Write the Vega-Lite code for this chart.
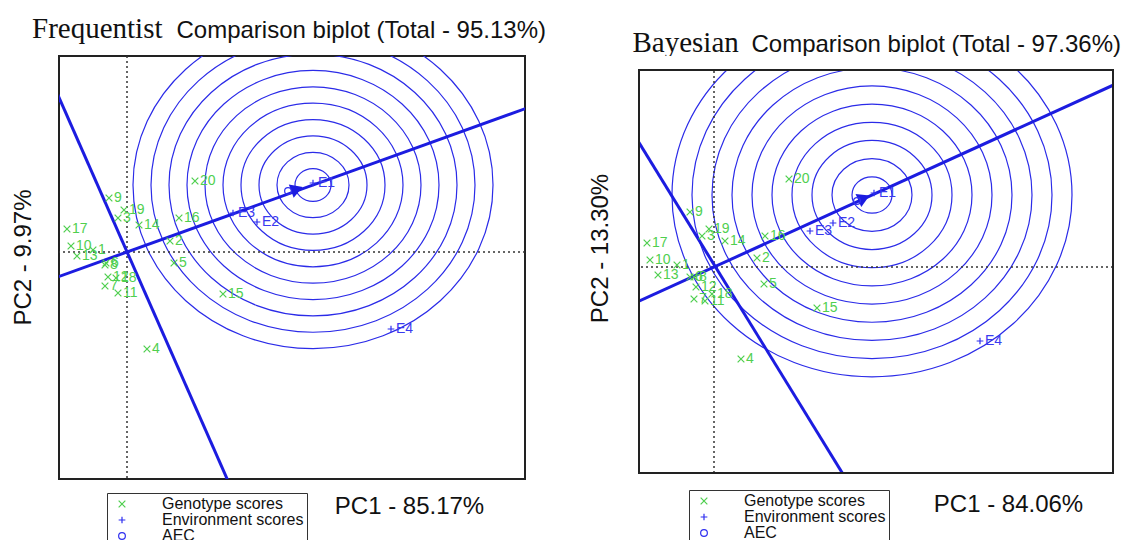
{
  "$schema": "https://vega.github.io/schema/vega-lite/v6.json",
  "padding": {"left": 10, "top": 13, "right": 0, "bottom": 0},
  "spacing": 41,
  "config": {
    "view": {"stroke": "#222", "strokeWidth": 2},
    "axis": {"domain": false, "ticks": false, "labels": false, "grid": false, "titleFont": "Liberation Sans", "titleFontSize": 24, "titleFontWeight": "normal", "titleColor": "#111"},
    "legend": {"labelFont": "Liberation Sans", "labelFontSize": 16, "labelColor": "#111", "strokeColor": "#333", "fillColor": "white", "padding": 3, "symbolOffset": 4, "labelOffset": 32, "symbolSize": 45, "symbolStrokeWidth": 1.2, "rowPadding": -1, "labelLimit": 300}
  },
  "datasets": {
    "ptsL": [
      {"type": "Genotype scores", "label": "1", "x": -0.34, "y": 0.02},
      {"type": "Genotype scores", "label": "2", "x": 0.43, "y": 0.11},
      {"type": "Genotype scores", "label": "3", "x": -0.09, "y": 0.34},
      {"type": "Genotype scores", "label": "4", "x": 0.20, "y": -0.97},
      {"type": "Genotype scores", "label": "5", "x": 0.47, "y": -0.11},
      {"type": "Genotype scores", "label": "6", "x": -0.21, "y": -0.11},
      {"type": "Genotype scores", "label": "7", "x": -0.22, "y": -0.34},
      {"type": "Genotype scores", "label": "8", "x": -0.22, "y": -0.13},
      {"type": "Genotype scores", "label": "9", "x": -0.18, "y": 0.54},
      {"type": "Genotype scores", "label": "10", "x": -0.56, "y": 0.06},
      {"type": "Genotype scores", "label": "11", "x": -0.09, "y": -0.41},
      {"type": "Genotype scores", "label": "12", "x": -0.19, "y": -0.25},
      {"type": "Genotype scores", "label": "13", "x": -0.50, "y": -0.04},
      {"type": "Genotype scores", "label": "14", "x": 0.12, "y": 0.27},
      {"type": "Genotype scores", "label": "15", "x": 0.96, "y": -0.42},
      {"type": "Genotype scores", "label": "16", "x": 0.52, "y": 0.34},
      {"type": "Genotype scores", "label": "17", "x": -0.60, "y": 0.23},
      {"type": "Genotype scores", "label": "18", "x": -0.11, "y": -0.26},
      {"type": "Genotype scores", "label": "19", "x": -0.03, "y": 0.42},
      {"type": "Genotype scores", "label": "20", "x": 0.68, "y": 0.71},
      {"type": "Environment scores", "label": "E1", "x": 1.86, "y": 0.69},
      {"type": "Environment scores", "label": "E2", "x": 1.30, "y": 0.30},
      {"type": "Environment scores", "label": "E3", "x": 1.06, "y": 0.39},
      {"type": "Environment scores", "label": "E4", "x": 2.64, "y": -0.77},
      {"type": "AEC", "label": "", "x": 1.61, "y": 0.61}
    ],
    "ptsR": [
      {"type": "Genotype scores", "label": "1", "x": -0.37, "y": 0.02},
      {"type": "Genotype scores", "label": "2", "x": 0.43, "y": 0.09},
      {"type": "Genotype scores", "label": "3", "x": -0.12, "y": 0.31},
      {"type": "Genotype scores", "label": "4", "x": 0.27, "y": -0.92},
      {"type": "Genotype scores", "label": "5", "x": 0.50, "y": -0.17},
      {"type": "Genotype scores", "label": "6", "x": -0.24, "y": -0.10},
      {"type": "Genotype scores", "label": "7", "x": -0.20, "y": -0.32},
      {"type": "Genotype scores", "label": "8", "x": -0.20, "y": -0.10},
      {"type": "Genotype scores", "label": "9", "x": -0.24, "y": 0.55},
      {"type": "Genotype scores", "label": "10", "x": -0.64, "y": 0.07},
      {"type": "Genotype scores", "label": "11", "x": -0.09, "y": -0.34},
      {"type": "Genotype scores", "label": "12", "x": -0.18, "y": -0.20},
      {"type": "Genotype scores", "label": "13", "x": -0.56, "y": -0.08},
      {"type": "Genotype scores", "label": "14", "x": 0.11, "y": 0.26},
      {"type": "Genotype scores", "label": "15", "x": 1.03, "y": -0.41},
      {"type": "Genotype scores", "label": "16", "x": 0.51, "y": 0.31},
      {"type": "Genotype scores", "label": "17", "x": -0.67, "y": 0.24},
      {"type": "Genotype scores", "label": "18", "x": -0.02, "y": -0.27},
      {"type": "Genotype scores", "label": "19", "x": -0.05, "y": 0.38},
      {"type": "Genotype scores", "label": "20", "x": 0.75, "y": 0.88},
      {"type": "Environment scores", "label": "E1", "x": 1.60, "y": 0.74},
      {"type": "Environment scores", "label": "E2", "x": 1.19, "y": 0.44},
      {"type": "Environment scores", "label": "E3", "x": 0.96, "y": 0.36},
      {"type": "Environment scores", "label": "E4", "x": 2.66, "y": -0.74},
      {"type": "AEC", "label": "", "x": 1.43, "y": 0.66}
    ],
    "ringsL": [
      {"cx": 1.86, "cy": 0.67, "r": 0.18}, {"cx": 1.86, "cy": 0.67, "r": 0.36},
      {"cx": 1.86, "cy": 0.67, "r": 0.54}, {"cx": 1.86, "cy": 0.67, "r": 0.72},
      {"cx": 1.86, "cy": 0.67, "r": 0.90}, {"cx": 1.86, "cy": 0.67, "r": 1.08},
      {"cx": 1.86, "cy": 0.67, "r": 1.26}, {"cx": 1.86, "cy": 0.67, "r": 1.44},
      {"cx": 1.86, "cy": 0.67, "r": 1.62}, {"cx": 1.86, "cy": 0.67, "r": 1.80}
    ],
    "ringsR": [
      {"cx": 1.58, "cy": 0.72, "r": 0.20}, {"cx": 1.58, "cy": 0.72, "r": 0.40},
      {"cx": 1.58, "cy": 0.72, "r": 0.60}, {"cx": 1.58, "cy": 0.72, "r": 0.80},
      {"cx": 1.58, "cy": 0.72, "r": 1.00}, {"cx": 1.58, "cy": 0.72, "r": 1.20},
      {"cx": 1.58, "cy": 0.72, "r": 1.40}, {"cx": 1.58, "cy": 0.72, "r": 1.60},
      {"cx": 1.58, "cy": 0.72, "r": 1.80}, {"cx": 1.58, "cy": 0.72, "r": 2.00}
    ],
    "linesL": [
      {"ln": "a", "x": -1.0, "y": -0.36}, {"ln": "a", "x": 4.5, "y": 1.62},
      {"ln": "b", "x": -1.0, "y": 2.27}, {"ln": "b", "x": 1.2, "y": -2.72}
    ],
    "linesR": [
      {"ln": "a", "x": -1.0, "y": -0.456}, {"ln": "a", "x": 4.5, "y": 2.05},
      {"ln": "b", "x": -1.0, "y": 1.65}, {"ln": "b", "x": 1.4, "y": -2.25}
    ],
    "stripR": [{"x0": -0.8, "x1": 4.05, "y0": 1.97, "y1": 2.2}],
    "frameR": [{"x0": -0.75, "x1": 3.99, "y0": -2.06, "y1": 1.97}],
    "arrowL": [{"x": 1.70, "y": 0.63}],
    "arrowR": [{"x": 1.50, "y": 0.69}],
    "one": [{"v": 0}]
  },
  "resolve": {"scale": {"color": "independent", "shape": "independent", "size": "independent"}, "legend": {"color": "independent", "shape": "independent"}},
  "hconcat": [
    {
      "width": 466, "height": 423,
      "resolve": {"axis": {"x": "independent"}},
      "layer": [
        {
          "layer": [
            {
              "data": {"name": "ringsL"},
              "mark": {"type": "point", "shape": "M1,0C1,0.502,0.552,0.909,0,0.909C-0.552,0.909,-1,0.502,-1,0C-1,-0.502,-0.552,-0.909,0,-0.909C0.552,-0.909,1,-0.502,1,0Z", "filled": false, "color": "#2b2be8", "strokeWidth": 1.2, "opacity": 1, "clip": true},
              "encoding": {
                "x": {"field": "cx", "type": "quantitative", "scale": {"domain": [-0.68, 3.98], "nice": false, "zero": false}, "axis": {"title": "PC1 - 85.17%", "titleX": 350, "titleY": 34, "titleAlign": "center", "titleBaseline": "alphabetic"}},
                "y": {"field": "cy", "type": "quantitative", "scale": {"domain": [-2.27, 1.96], "nice": false, "zero": false}, "axis": {"title": "PC2 - 9.97%", "titleX": -36, "titleY": 201, "titleAngle": -90, "titleAlign": "center", "titleBaseline": "middle"}},
                "size": {"field": "r", "type": "quantitative", "scale": {"type": "pow", "exponent": 2, "domain": [0, 2], "range": [0, 160000]}, "legend": null}
              }
            },
            {
              "data": {"name": "one"},
              "mark": {"type": "rule", "strokeDash": [2, 3], "color": "#333", "strokeWidth": 1.5},
              "encoding": {"x": {"field": "v", "type": "quantitative", "scale": {"domain": [-0.68, 3.98], "nice": false, "zero": false}}}
            },
            {
              "data": {"name": "one"},
              "mark": {"type": "rule", "strokeDash": [2, 3], "color": "#333", "strokeWidth": 1.5},
              "encoding": {"y": {"field": "v", "type": "quantitative", "scale": {"domain": [-2.27, 1.96], "nice": false, "zero": false}}}
            },
            {
              "data": {"name": "linesL"},
              "mark": {"type": "line", "color": "#1c1ce0", "strokeWidth": 3, "clip": true},
              "encoding": {
                "x": {"field": "x", "type": "quantitative", "scale": {"domain": [-0.68, 3.98], "nice": false, "zero": false}},
                "y": {"field": "y", "type": "quantitative", "scale": {"domain": [-2.27, 1.96], "nice": false, "zero": false}},
                "detail": {"field": "ln"}
              }
            },
            {
              "data": {"name": "arrowL"},
              "mark": {"type": "point", "shape": "triangle-right", "filled": true, "color": "#1c1ce0", "size": 200, "angle": 340, "opacity": 1},
              "encoding": {
                "x": {"field": "x", "type": "quantitative", "scale": {"domain": [-0.68, 3.98], "nice": false, "zero": false}},
                "y": {"field": "y", "type": "quantitative", "scale": {"domain": [-2.27, 1.96], "nice": false, "zero": false}}
              }
            },
            {
              "data": {"name": "ptsL"},
              "mark": {"type": "point", "filled": false, "strokeWidth": 1.2, "size": 45, "opacity": 1},
              "encoding": {
                "x": {"field": "x", "type": "quantitative", "scale": {"domain": [-0.68, 3.98], "nice": false, "zero": false}},
                "y": {"field": "y", "type": "quantitative", "scale": {"domain": [-2.27, 1.96], "nice": false, "zero": false}},
                "shape": {"field": "type", "type": "nominal", "scale": {"domain": ["Genotype scores", "Environment scores", "AEC"], "range": ["M-1,-1L1,1M-1,1L1,-1", "M-1,0L1,0M0,-1L0,1", "circle"]}, "legend": {"title": null, "orient": "none", "legendX": 48, "legendY": 437}},
                "color": {"field": "type", "type": "nominal", "scale": {"domain": ["Genotype scores", "Environment scores", "AEC"], "range": ["#4fcf4f", "#2f2ff0", "#2f2ff0"]}, "legend": {"title": null, "orient": "none", "legendX": 48, "legendY": 437}}
              }
            },
            {
              "data": {"name": "ptsL"},
              "transform": [{"filter": "datum.type == 'Genotype scores'"}],
              "mark": {"type": "text", "align": "left", "baseline": "middle", "dx": 5, "font": "Liberation Sans", "fontSize": 14, "color": "#4fcf4f"},
              "encoding": {
                "x": {"field": "x", "type": "quantitative", "scale": {"domain": [-0.68, 3.98], "nice": false, "zero": false}},
                "y": {"field": "y", "type": "quantitative", "scale": {"domain": [-2.27, 1.96], "nice": false, "zero": false}},
                "text": {"field": "label"}
              }
            },
            {
              "data": {"name": "ptsL"},
              "transform": [{"filter": "datum.type == 'Environment scores'"}],
              "mark": {"type": "text", "align": "left", "baseline": "middle", "dx": 5, "font": "Liberation Sans", "fontSize": 14, "color": "#3a3af0"},
              "encoding": {
                "x": {"field": "x", "type": "quantitative", "scale": {"domain": [-0.68, 3.98], "nice": false, "zero": false}},
                "y": {"field": "y", "type": "quantitative", "scale": {"domain": [-2.27, 1.96], "nice": false, "zero": false}},
                "text": {"field": "label"}
              }
            }
          ]
        },
        {
          "data": {"name": "one"},
          "mark": {"type": "rule", "opacity": 0},
          "encoding": {"x": {"field": "v", "type": "quantitative", "scale": {"domain": [-0.68, 3.98], "nice": false, "zero": false}, "axis": {"orient": "top", "values": [0.49], "labels": true, "labelExpr": "'Comparison biplot (Total - 95.13%)'", "labelFont": "Liberation Sans", "labelFontSize": 24, "labelColor": "#111", "labelAlign": "left", "labelBaseline": "alphabetic", "labelPadding": 19, "labelFlush": false, "labelOverlap": false, "labelBound": false, "labelLimit": 1000, "title": "Frequentist", "titleFont": "Liberation Serif", "titleFontSize": 29, "titleX": -27.5, "titleY": -19, "titleAlign": "left", "titleBaseline": "alphabetic"}}}
        }
      ]
    },
    {
      "width": 474, "height": 417,
      "view": {"stroke": null},
      "resolve": {"axis": {"x": "independent"}},
      "layer": [
        {
          "layer": [
            {
              "data": {"name": "ringsR"},
              "mark": {"type": "point", "shape": "M1,0C1,0.502,0.552,0.909,0,0.909C-0.552,0.909,-1,0.502,-1,0C-1,-0.502,-0.552,-0.909,0,-0.909C0.552,-0.909,1,-0.502,1,0Z", "filled": false, "color": "#2b2be8", "strokeWidth": 1.2, "opacity": 1, "clip": true},
              "encoding": {
                "x": {"field": "cx", "type": "quantitative", "scale": {"domain": [-0.75, 3.99], "nice": false, "zero": false}, "axis": {"title": "PC1 - 84.06%", "titleX": 369, "titleY": 38, "titleAlign": "center", "titleBaseline": "alphabetic"}},
                "y": {"field": "cy", "type": "quantitative", "scale": {"domain": [-2.06, 2.11], "nice": false, "zero": false}, "axis": {"title": "PC2 - 13.30%", "titleX": -39, "titleY": 192, "titleAngle": -90, "titleAlign": "center", "titleBaseline": "middle"}},
                "size": {"field": "r", "type": "quantitative", "scale": {"type": "pow", "exponent": 2, "domain": [0, 2], "range": [0, 160000]}, "legend": null}
              }
            },
            {
              "data": {"name": "one"},
              "mark": {"type": "rule", "strokeDash": [2, 3], "color": "#333", "strokeWidth": 1.5},
              "encoding": {"x": {"field": "v", "type": "quantitative", "scale": {"domain": [-0.75, 3.99], "nice": false, "zero": false}}}
            },
            {
              "data": {"name": "one"},
              "mark": {"type": "rule", "strokeDash": [2, 3], "color": "#333", "strokeWidth": 1.5},
              "encoding": {"y": {"field": "v", "type": "quantitative", "scale": {"domain": [-2.06, 2.11], "nice": false, "zero": false}}}
            },
            {
              "data": {"name": "linesR"},
              "mark": {"type": "line", "color": "#1c1ce0", "strokeWidth": 3, "clip": true},
              "encoding": {
                "x": {"field": "x", "type": "quantitative", "scale": {"domain": [-0.75, 3.99], "nice": false, "zero": false}},
                "y": {"field": "y", "type": "quantitative", "scale": {"domain": [-2.06, 2.11], "nice": false, "zero": false}},
                "detail": {"field": "ln"}
              }
            },
            {
              "data": {"name": "stripR"},
              "mark": {"type": "rect", "color": "white", "filled": true, "opacity": 1, "clip": true},
              "encoding": {
                "x": {"field": "x0", "type": "quantitative", "scale": {"domain": [-0.75, 3.99], "nice": false, "zero": false}},
                "x2": {"field": "x1"},
                "y": {"field": "y0", "type": "quantitative", "scale": {"domain": [-2.06, 2.11], "nice": false, "zero": false}},
                "y2": {"field": "y1"}
              }
            },
            {
              "data": {"name": "frameR"},
              "mark": {"type": "rect", "filled": false, "color": "#222", "strokeWidth": 2, "opacity": 1},
              "encoding": {
                "x": {"field": "x0", "type": "quantitative", "scale": {"domain": [-0.75, 3.99], "nice": false, "zero": false}},
                "x2": {"field": "x1"},
                "y": {"field": "y0", "type": "quantitative", "scale": {"domain": [-2.06, 2.11], "nice": false, "zero": false}},
                "y2": {"field": "y1"}
              }
            },
            {
              "data": {"name": "arrowR"},
              "mark": {"type": "point", "shape": "triangle-right", "filled": true, "color": "#1c1ce0", "size": 200, "angle": 336, "opacity": 1},
              "encoding": {
                "x": {"field": "x", "type": "quantitative", "scale": {"domain": [-0.75, 3.99], "nice": false, "zero": false}},
                "y": {"field": "y", "type": "quantitative", "scale": {"domain": [-2.06, 2.11], "nice": false, "zero": false}}
              }
            },
            {
              "data": {"name": "ptsR"},
              "mark": {"type": "point", "filled": false, "strokeWidth": 1.2, "size": 45, "opacity": 1},
              "encoding": {
                "x": {"field": "x", "type": "quantitative", "scale": {"domain": [-0.75, 3.99], "nice": false, "zero": false}},
                "y": {"field": "y", "type": "quantitative", "scale": {"domain": [-2.06, 2.11], "nice": false, "zero": false}},
                "shape": {"field": "type", "type": "nominal", "scale": {"domain": ["Genotype scores", "Environment scores", "AEC"], "range": ["M-1,-1L1,1M-1,1L1,-1", "M-1,0L1,0M0,-1L0,1", "circle"]}, "legend": {"title": null, "orient": "none", "legendX": 50, "legendY": 434, "rowPadding": -3}},
                "color": {"field": "type", "type": "nominal", "scale": {"domain": ["Genotype scores", "Environment scores", "AEC"], "range": ["#4fcf4f", "#2f2ff0", "#2f2ff0"]}, "legend": {"title": null, "orient": "none", "legendX": 50, "legendY": 434, "rowPadding": -3}}
              }
            },
            {
              "data": {"name": "ptsR"},
              "transform": [{"filter": "datum.type == 'Genotype scores'"}],
              "mark": {"type": "text", "align": "left", "baseline": "middle", "dx": 5, "font": "Liberation Sans", "fontSize": 14, "color": "#4fcf4f"},
              "encoding": {
                "x": {"field": "x", "type": "quantitative", "scale": {"domain": [-0.75, 3.99], "nice": false, "zero": false}},
                "y": {"field": "y", "type": "quantitative", "scale": {"domain": [-2.06, 2.11], "nice": false, "zero": false}},
                "text": {"field": "label"}
              }
            },
            {
              "data": {"name": "ptsR"},
              "transform": [{"filter": "datum.type == 'Environment scores'"}],
              "mark": {"type": "text", "align": "left", "baseline": "middle", "dx": 5, "font": "Liberation Sans", "fontSize": 14, "color": "#3a3af0"},
              "encoding": {
                "x": {"field": "x", "type": "quantitative", "scale": {"domain": [-0.75, 3.99], "nice": false, "zero": false}},
                "y": {"field": "y", "type": "quantitative", "scale": {"domain": [-2.06, 2.11], "nice": false, "zero": false}},
                "text": {"field": "label"}
              }
            }
          ]
        },
        {
          "data": {"name": "one"},
          "mark": {"type": "rule", "opacity": 0},
          "encoding": {"x": {"field": "v", "type": "quantitative", "scale": {"domain": [-0.75, 3.99], "nice": false, "zero": false}, "axis": {"orient": "top", "values": [0.37], "labels": true, "labelExpr": "'Comparison biplot (Total - 97.36%)'", "labelFont": "Liberation Sans", "labelFontSize": 24, "labelColor": "#111", "labelAlign": "left", "labelBaseline": "alphabetic", "labelPadding": 5, "labelFlush": false, "labelOverlap": false, "labelBound": false, "labelLimit": 1000, "title": "Bayesian", "titleFont": "Liberation Serif", "titleFontSize": 29, "titleX": -7, "titleY": -5, "titleAlign": "left", "titleBaseline": "alphabetic"}}}
        }
      ]
    }
  ]
}
